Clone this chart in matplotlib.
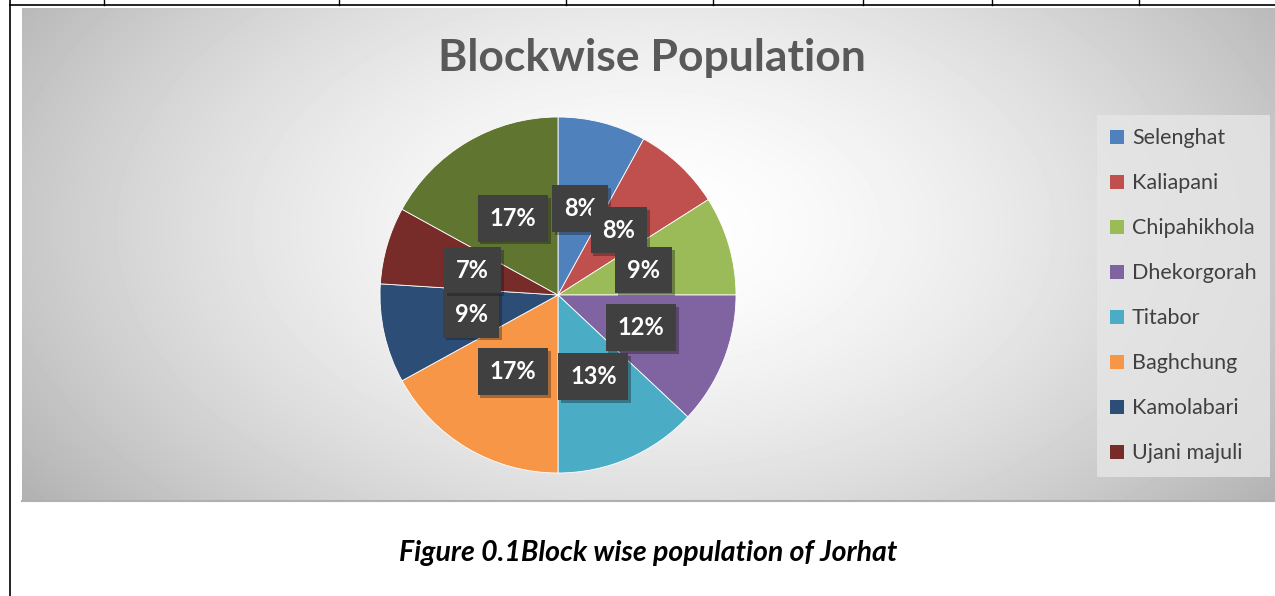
import numpy as np
import matplotlib
matplotlib.use('Agg')
import matplotlib.pyplot as plt
from matplotlib.lines import Line2D
from matplotlib.patches import Patch
import matplotlib.patheffects as pe

# share of population per block (%)
blocks = ['Selenghat', 'Kaliapani', 'Chipahikhola', 'Dhekorgorah', 'Titabor',
          'Baghchung', 'Kamolabari', 'Ujani majuli', '']
shares = [8, 8, 9, 12, 13, 17, 9, 7, 17]
colors = ['#4F81BD', '#C0504D', '#9BBB59', '#8064A2', '#4BACC6',
          '#F79646', '#2C4D75', '#772C2A', '#5F7530']

W, H = 1275, 596
plt.rcParams['font.family'] = ['Lato', 'DejaVu Sans']

fig = plt.figure(figsize=(W / 100, H / 100), dpi=100)
fig.patch.set_facecolor('white')

# gray radial gradient panel
px0, py0, px1, py1 = 22, 8, 1275, 500
bg = fig.add_axes([px0 / W, 1 - py1 / H, (px1 - px0) / W, (py1 - py0) / H])
yy, xx = np.mgrid[0:py1 - py0, 0:px1 - px0]
d = np.sqrt(((xx - 630) / 720.0) ** 2 + ((yy - 220) / 430.0) ** 2)
g = 1 - 0.27 * np.clip(d, 0, 1.2) ** 1.6
bg.imshow(g, cmap='gray', vmin=0, vmax=1, aspect='auto', interpolation='bilinear')
bg.set_axis_off()

# pie
cx, cy, r = 558, 295, 178
ax = fig.add_axes([(cx - r) / W, 1 - (cy + r) / H, 2 * r / W, 2 * r / H])
wedges, texts, autotexts = ax.pie(
    shares, colors=colors, startangle=90, counterclock=False,
    autopct='%.0f%%', pctdistance=0.5,
    wedgeprops=dict(edgecolor='white', linewidth=0.6),
    textprops=dict(color='white', fontsize=17, fontweight='bold'))
ax.set_xlim(-1, 1)
ax.set_ylim(-1, 1)
for t in autotexts:
    t.set_bbox(dict(boxstyle='square,pad=0.5', facecolor='#404040', edgecolor='none'))
    t.get_bbox_patch().set_path_effects(
        [pe.SimplePatchShadow(offset=(2, -2), alpha=0.35), pe.Normal()])

# legend
handles = [Patch(facecolor=c, edgecolor='none') for c in colors[:8]]
leg = fig.legend(handles, blocks[:8], loc='upper left',
                 bbox_to_anchor=(1097 / W, 1 - 115 / H), fontsize=15.5,
                 frameon=True, fancybox=False, labelspacing=1.16,
                 handlelength=0.62, handleheight=0.62, handletextpad=0.38,
                 borderpad=0.62, borderaxespad=0)
leg.get_frame().set_facecolor('#e6e6e6')
leg.get_frame().set_edgecolor('none')
leg.get_frame().set_alpha(0.8)
for t in leg.get_texts():
    t.set_color('#404040')

# title and caption
fig.text(652 / W, 1 - 58 / H, 'Blockwise Population', ha='center', va='center',
         fontsize=32, fontweight='bold', color='#595959')
fig.text(648 / W, 1 - 553 / H, 'Figure 0.1Block wise population of Jorhat',
         ha='center', va='center', fontsize=20.5, fontweight='bold',
         fontstyle='italic', color='black')

# table border lines of the page
fig.add_artist(Line2D([10 / W, 10 / W], [0, 1], color='black', lw=1.2,
                      transform=fig.transFigure))
fig.add_artist(Line2D([10 / W, 1], [1 - 5 / H, 1 - 5 / H], color='black', lw=1.2,
                      transform=fig.transFigure))
for x in [104, 339, 566, 713, 863, 992, 1139]:
    fig.add_artist(Line2D([x / W, x / W], [1 - 5 / H, 1], color='black', lw=1,
                          transform=fig.transFigure))
fig.add_artist(Line2D([px0 / W, 1], [1 - 501 / H, 1 - 501 / H], color='#b0b0b0',
                      lw=1.5, transform=fig.transFigure))

fig.savefig('out.png', dpi=100)
